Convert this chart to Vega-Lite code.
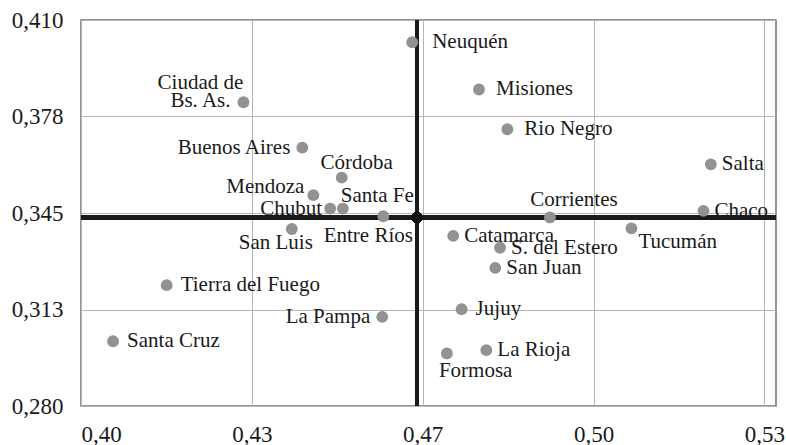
{
  "$schema": "https://vega.github.io/schema/vega-lite/v6.json",
  "autosize": "none",
  "width": 695,
  "height": 386,
  "padding": {"left": 81, "top": 20, "right": 10, "bottom": 39},
  "background": "white",
  "config": {
    "view": {"stroke": "#707070", "strokeWidth": 1.5},
    "font": "Liberation Serif"
  },
  "data": {
    "values": [
      {"provincia": "Ciudad de Bs. As.", "x": 0.4309, "y": 0.3823},
      {"provincia": "Buenos Aires", "x": 0.4421, "y": 0.3670},
      {"provincia": "Córdoba", "x": 0.4496, "y": 0.3569},
      {"provincia": "Mendoza", "x": 0.4442, "y": 0.3510},
      {"provincia": "Chubut", "x": 0.4474, "y": 0.3465},
      {"provincia": "Santa Fe", "x": 0.4498, "y": 0.3465},
      {"provincia": "Entre Ríos", "x": 0.4575, "y": 0.3439},
      {"provincia": "San Luis", "x": 0.4401, "y": 0.3396},
      {"provincia": "Tierra del Fuego", "x": 0.4163, "y": 0.3207},
      {"provincia": "La Pampa", "x": 0.4573, "y": 0.3100},
      {"provincia": "Santa Cruz", "x": 0.4061, "y": 0.3018},
      {"provincia": "Neuquén", "x": 0.4630, "y": 0.4025},
      {"provincia": "Misiones", "x": 0.4757, "y": 0.3866},
      {"provincia": "Rio Negro", "x": 0.4811, "y": 0.3732},
      {"provincia": "Salta", "x": 0.5198, "y": 0.3614},
      {"provincia": "Chaco", "x": 0.5184, "y": 0.3457},
      {"provincia": "Corrientes", "x": 0.4892, "y": 0.3435},
      {"provincia": "Tucumán", "x": 0.5047, "y": 0.3398},
      {"provincia": "Catamarca", "x": 0.4708, "y": 0.3373},
      {"provincia": "S. del Estero", "x": 0.4797, "y": 0.3333},
      {"provincia": "San Juan", "x": 0.4788, "y": 0.3265},
      {"provincia": "Jujuy", "x": 0.4724, "y": 0.3126},
      {"provincia": "La Rioja", "x": 0.4771, "y": 0.2988},
      {"provincia": "Formosa", "x": 0.4696, "y": 0.2977}
    ]
  },
  "encoding": {
    "x": {
      "field": "x", "type": "quantitative",
      "scale": {"domain": [0.40, 0.5322], "nice": false, "zero": false},
      "axis": {
        "title": null, "values": [0.40, 0.4325, 0.465, 0.4975, 0.53],
        "labelExpr": "replace(format(datum.value + 1e-9, '.2f'), '.', ',')",
        "domain": false, "ticks": false, "labelPadding": 17,
        "labelFontSize": 23, "labelColor": "#1a1a1a",
        "grid": true, "gridColor": "#b5b5b5", "gridWidth": 1
      }
    },
    "y": {
      "field": "y", "type": "quantitative",
      "scale": {"domain": [0.280, 0.410], "nice": false, "zero": false},
      "axis": {
        "title": null, "values": [0.280, 0.3125, 0.345, 0.3775, 0.410],
        "labelExpr": "replace(format(datum.value + 1e-9, '.3f'), '.', ',')",
        "domain": false, "ticks": false, "labelPadding": 18,
        "labelFontSize": 23, "labelColor": "#1a1a1a",
        "grid": true, "gridColor": "#b5b5b5", "gridWidth": 1
      }
    }
  },
  "layer": [
    {
      "mark": {"type": "rule", "color": "#1a1a1a", "strokeWidth": 3.5},
      "encoding": {"y": {"datum": 0.3435}, "x": null}
    },
    {
      "mark": {"type": "rule", "color": "#1a1a1a", "strokeWidth": 3.5},
      "encoding": {"x": {"datum": 0.4639}, "y": null}
    },
    {
      "mark": {"type": "circle", "color": "#929292", "opacity": 1, "size": 140}
    },
    {
      "mark": {"type": "circle", "color": "#111111", "opacity": 1, "size": 115},
      "encoding": {"x": {"datum": 0.4639}, "y": {"datum": 0.3435}}
    },
    {
      "transform": [{"filter": {"field": "provincia", "oneOf": ["Salta", "Chaco", "S. del Estero", "San Juan", "La Rioja", "Catamarca"]}}],
      "mark": {"type": "text", "align": "left", "baseline": "middle", "dx": 11, "fontSize": 21, "color": "#1a1a1a"},
      "encoding": {"text": {"field": "provincia"}}
    },
    {
      "transform": [{"filter": {"field": "provincia", "oneOf": ["Tierra del Fuego", "Santa Cruz", "Jujuy"]}}],
      "mark": {"type": "text", "align": "left", "baseline": "middle", "dx": 14, "fontSize": 21, "color": "#1a1a1a"},
      "encoding": {"text": {"field": "provincia"}}
    },
    {
      "transform": [{"filter": {"field": "provincia", "oneOf": ["Misiones", "Rio Negro"]}}],
      "mark": {"type": "text", "align": "left", "baseline": "middle", "dx": 17, "fontSize": 21, "color": "#1a1a1a"},
      "encoding": {"text": {"field": "provincia"}}
    },
    {
      "transform": [{"filter": {"field": "provincia", "oneOf": ["Neuquén"]}}],
      "mark": {"type": "text", "align": "left", "baseline": "middle", "dx": 20, "fontSize": 21, "color": "#1a1a1a"},
      "encoding": {"text": {"field": "provincia"}}
    },
    {
      "transform": [{"filter": {"field": "provincia", "oneOf": ["Buenos Aires", "La Pampa"]}}],
      "mark": {"type": "text", "align": "right", "baseline": "middle", "dx": -12, "fontSize": 21, "color": "#1a1a1a"},
      "encoding": {"text": {"field": "provincia"}}
    },
    {
      "transform": [{"filter": {"field": "provincia", "oneOf": ["Chubut"]}}],
      "mark": {"type": "text", "align": "right", "baseline": "middle", "dx": -8, "fontSize": 21, "color": "#1a1a1a"},
      "encoding": {"text": {"field": "provincia"}}
    },
    {
      "transform": [{"filter": {"field": "provincia", "oneOf": ["Mendoza"]}}],
      "mark": {"type": "text", "align": "right", "baseline": "middle", "dx": -9, "dy": -8, "fontSize": 21, "color": "#1a1a1a"},
      "encoding": {"text": {"field": "provincia"}}
    },
    {
      "transform": [{"filter": {"field": "provincia", "oneOf": ["Ciudad de Bs. As."]}}],
      "mark": {"type": "text", "align": "center", "baseline": "middle", "dx": -43, "dy": -19, "fontSize": 21, "color": "#1a1a1a", "lineHeight": 18},
      "encoding": {"text": {"value": ["Ciudad de", "Bs. As."]}}
    },
    {
      "transform": [{"filter": {"field": "provincia", "oneOf": ["Córdoba"]}}],
      "mark": {"type": "text", "align": "center", "baseline": "middle", "dx": 15, "dy": -15, "fontSize": 21, "color": "#1a1a1a"},
      "encoding": {"text": {"field": "provincia"}}
    },
    {
      "transform": [{"filter": {"field": "provincia", "oneOf": ["Santa Fe"]}}],
      "mark": {"type": "text", "align": "left", "baseline": "middle", "dx": -2, "dy": -13, "fontSize": 21, "color": "#1a1a1a"},
      "encoding": {"text": {"field": "provincia"}}
    },
    {
      "transform": [{"filter": {"field": "provincia", "oneOf": ["Corrientes"]}}],
      "mark": {"type": "text", "align": "center", "baseline": "middle", "dx": 24, "dy": -17, "fontSize": 21, "color": "#1a1a1a"},
      "encoding": {"text": {"field": "provincia"}}
    },
    {
      "transform": [{"filter": {"field": "provincia", "oneOf": ["San Luis"]}}],
      "mark": {"type": "text", "align": "center", "baseline": "middle", "dx": -16, "dy": 14, "fontSize": 21, "color": "#1a1a1a"},
      "encoding": {"text": {"field": "provincia"}}
    },
    {
      "transform": [{"filter": {"field": "provincia", "oneOf": ["Entre Ríos"]}}],
      "mark": {"type": "text", "align": "center", "baseline": "middle", "dx": -15, "dy": 20, "fontSize": 21, "color": "#1a1a1a"},
      "encoding": {"text": {"field": "provincia"}}
    },
    {
      "transform": [{"filter": {"field": "provincia", "oneOf": ["Tucumán"]}}],
      "mark": {"type": "text", "align": "left", "baseline": "middle", "dx": 7, "dy": 14, "fontSize": 21, "color": "#1a1a1a"},
      "encoding": {"text": {"field": "provincia"}}
    },
    {
      "transform": [{"filter": {"field": "provincia", "oneOf": ["Formosa"]}}],
      "mark": {"type": "text", "align": "left", "baseline": "middle", "dx": -8, "dy": 18, "fontSize": 21, "color": "#1a1a1a"},
      "encoding": {"text": {"field": "provincia"}}
    }
  ]
}
